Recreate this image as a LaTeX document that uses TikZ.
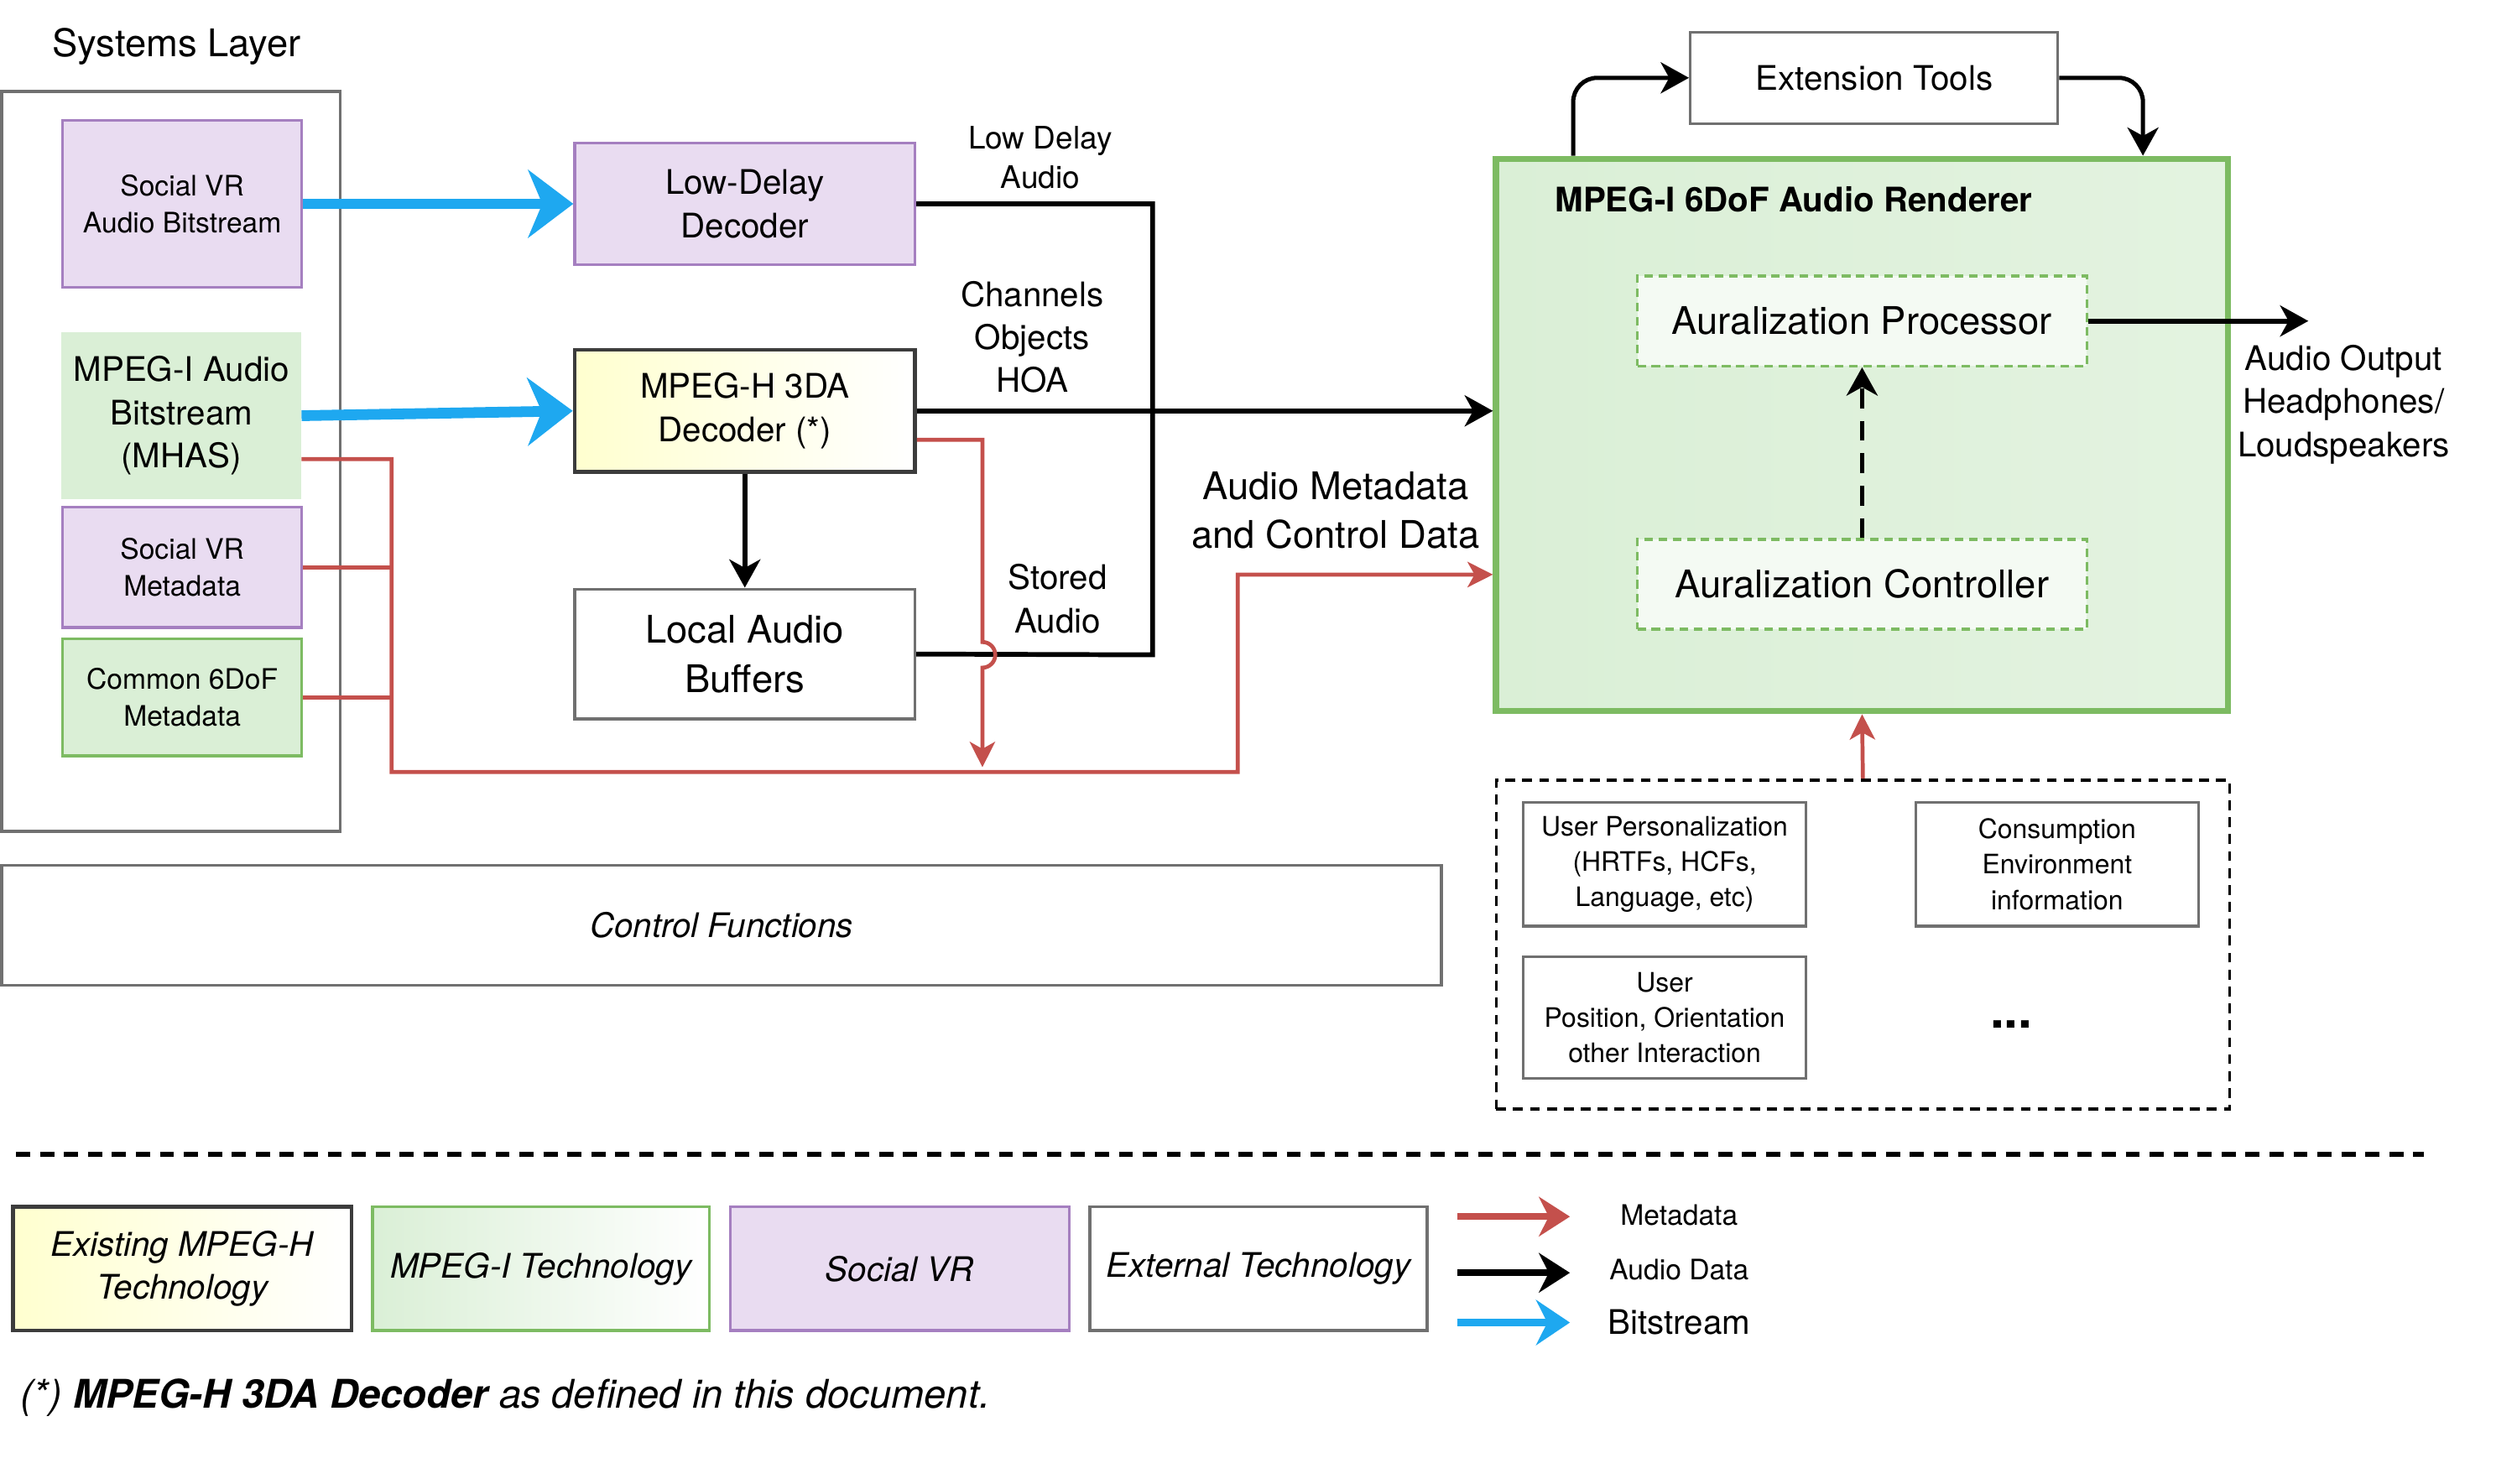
\documentclass[tikz,border=0pt]{standalone}
\usepackage{fontspec}
\setmainfont{TeX Gyre Heros}
\usetikzlibrary{arrows.meta}
\definecolor{svrfill}{HTML}{E9DCF1}
\definecolor{svrline}{HTML}{A57FC0}
\definecolor{mpifill}{HTML}{DAEFD6}
\definecolor{mpiline}{HTML}{7DBB62}
\definecolor{mphfill}{HTML}{FFFFCF}
\definecolor{mphline}{HTML}{3C3C3C}
\definecolor{boxline}{HTML}{707070}
\definecolor{metared}{HTML}{C4504C}
\definecolor{bitblue}{HTML}{1EA8F0}
\newcommand{\fnine}{\fontsize{9.5}{12.5}\selectfont}
\newcommand{\ften}{\fontsize{10}{13}\selectfont}
\newcommand{\ftwelve}{\fontsize{12}{15.3}\selectfont}
\newcommand{\fthirteen}{\fontsize{13.5}{17.5}\selectfont}
\tikzstyle{box}=[draw=boxline,fill=white,line width=1pt,align=center,inner sep=0pt]
\tikzstyle{svr}=[box,draw=svrline,fill=svrfill]
\tikzstyle{mpi}=[box,draw=mpiline,fill=mpifill]
\tikzstyle{mph}=[box,draw=mphline,line width=1.4pt,left color=mphfill,right color=white]
\tikzstyle{aur}=[box,draw=mpiline,dash pattern=on 3pt off 2pt,fill=white!70!mpifill,minimum width=5.6cm,minimum height=1.12cm,font=\fthirteen]
\tikzstyle{lbl}=[align=center,inner sep=0pt]
\tikzstyle{bitline}=[draw=bitblue,line width=3.8pt,-{Stealth[length=16pt,width=24pt,inset=5pt]}]
\tikzstyle{audline}=[draw=black,line width=1.7pt]
\tikzstyle{audtip}=[audline,-{Stealth[length=10pt,width=11pt,inset=3pt]}]
\tikzstyle{metaline}=[draw=metared,line width=1.4pt]
\tikzstyle{metatip}=[metaline,-{Stealth[length=9pt,width=9pt,inset=2.5pt]}]

\begin{document}
\begin{tikzpicture}[x=0.02cm,y=-0.02cm,thick]
\useasboundingbox (0,0) rectangle (1568,924.1);
% systems layer
\node[lbl,font=\fthirteen] (slt) at (110,29) {Systems Layer};
\node[box,minimum width=4.22cm,minimum height=9.22cm] (sys) at (106.5,287.5) {};
\node[svr,minimum width=2.98cm,minimum height=2.08cm,font=\ften] (svab) at (113.5,127) {Social VR\\Audio Bitstream};
\node[mpi,draw=mpifill,minimum width=2.96cm,minimum height=2.04cm,font=\ftwelve] (mhas) at (113,259) {MPEG-I Audio\\Bitstream\\(MHAS)};
\node[svr,minimum width=2.98cm,minimum height=1.5cm,font=\ften] (svmeta) at (113.5,353.5) {Social VR\\Metadata};
\node[mpi,minimum width=2.98cm,minimum height=1.46cm,font=\ften] (c6dof) at (113.5,434.5) {Common 6DoF\\Metadata};
% decoders
\node[svr,minimum width=4.24cm,minimum height=1.52cm,font=\ftwelve] (ldd) at (464,127) {Low-Delay\\Decoder};
\node[mph,minimum width=4.24cm,minimum height=1.52cm,font=\ftwelve] (mpegh) at (464,256) {MPEG-H 3DA\\Decoder (*)};
\node[box,minimum width=4.24cm,minimum height=1.62cm,font=\fthirteen] (lab) at (464,407.5) {Local Audio\\Buffers};
\node[lbl,font=\fontsize{11}{14}\selectfont] (ldalbl) at (648,98) {Low Delay\\Audio};
\node[lbl,font=\ftwelve] (choblbl) at (643,210) {Channels\\Objects\\HOA};
\node[lbl,font=\ftwelve] (storlbl) at (659,373) {Stored\\Audio};
\node[lbl,font=\fthirteen] (amcdlbl) at (832,318) {Audio Metadata\\and Control Data};
% renderer
\node[mpi,line width=2.3pt,left color=mpifill,right color=mpifill!75,minimum width=9.12cm,minimum height=6.88cm] (rend) at (1160,271) {};
\node[lbl,anchor=west,font=\ftwelve\bfseries] (rendlbl) at (968,124) {MPEG-I 6DoF Audio Renderer};
\node[aur] (ap) at (1160,200) {Auralization Processor};
\node[aur] (ac) at (1160,364) {Auralization Controller};
\node[box,minimum width=4.58cm,minimum height=1.14cm,font=\ftwelve] (ext) at (1167.5,48.5) {Extension Tools};
\node[lbl,font=\ftwelve] (outlbl) at (1460,252) {Audio Output\\Headphones/\\Loudspeakers};
% user inputs
\node[box,draw=black,line width=1pt,dash pattern=on 3.5pt off 2.5pt,minimum width=9.14cm,minimum height=4.1cm] (user) at (1160.5,588.5) {};
\node[box,minimum width=3.52cm,minimum height=1.54cm,font=\fnine] (upers) at (1037,538.5) {User Personalization\\(HRTFs, HCFs,\\Language, etc)};
\node[box,minimum width=3.52cm,minimum height=1.54cm,font=\fnine] (cons) at (1281.5,538.5) {Consumption\\Environment\\information};
\node[box,minimum width=3.52cm,minimum height=1.52cm,font=\fnine] (upos) at (1037,634) {User\\Position, Orientation\\other Interaction};
\node[lbl,font=\fontsize{18}{20}\selectfont\bfseries] (dots) at (1253,638) {...};
\node[box,minimum width=17.94cm,minimum height=1.5cm,font=\ftwelve\itshape] (ctrl) at (449.5,576.5) {Control Functions};
% legend
\coordinate (sepl) at (10,719);
\coordinate (sepr) at (1510,719);
\draw[line width=1.8pt,dash pattern=on 5pt off 3.5pt] (sepl) -- (sepr);
\node[mph,minimum width=4.22cm,minimum height=1.54cm,font=\ftwelve\itshape] (lgexist) at (113.5,790.5) {Existing MPEG-H\\Technology};
\node[mpi,left color=mpifill,right color=white,minimum width=4.2cm,minimum height=1.54cm,font=\ftwelve\itshape] (lgmpi) at (337,790.5) {MPEG-I Technology};
\node[svr,minimum width=4.22cm,minimum height=1.54cm,font=\ftwelve\itshape] (lgsvr) at (560.5,790.5) {Social VR};
\node[box,minimum width=4.2cm,minimum height=1.54cm,font=\ftwelve\itshape] (lgext) at (784,790.5) {External Technology};
\coordinate (m1) at (908,758); \coordinate (m2) at (978,758);
\coordinate (a1) at (908,793); \coordinate (a2) at (978,793);
\coordinate (b1) at (908,824); \coordinate (b2) at (978,824);
\draw[metatip,line width=2.4pt,-{Stealth[length=11pt,width=14pt,inset=3.5pt]}] (m1) -- (m2);
\draw[audtip,line width=2.4pt,-{Stealth[length=11pt,width=14pt,inset=3.5pt]}] (a1) -- (a2);
\draw[bitline,line width=2.8pt,-{Stealth[length=12pt,width=16pt,inset=4pt]}] (b1) -- (b2);
\node[lbl,font=\ften] (lgmeta) at (1046,757) {Metadata};
\node[lbl,font=\ften] (lgaud) at (1046,791) {Audio Data};
\node[lbl,font=\ftwelve] (lgbit) at (1046,824) {Bitstream};
\node[lbl,anchor=west,font=\fontsize{14}{17}\selectfont\itshape] (note) at (12,871) {(*) \textbf{MPEG-H 3DA Decoder} as defined in this document.};
% connectors
\draw[bitline] (svab.east) -- (ldd.west);
\draw[bitline] (mhas.east) -- (mpegh.west);
\draw[audtip] (mpegh.south) -- (lab.north);
\draw[audline] (ldd.east) -| (718,408) -- (lab.east);
\draw[audtip] (mpegh.east) -- (rend.west |- mpegh.east);
\coordinate (merge) at (612,478);
\draw[metatip] ([yshift=-0.36cm]mpegh.east) -- (612,274) -- (612,400) arc[start angle=90,end angle=-90,radius=0.16cm] -- (merge);
\draw[metatip] ([yshift=-0.54cm]mhas.east) -- (244,286) -- (244,481) -- (771,481) -- (771,358) -- ([yshift=-1.74cm]rend.west);
\draw[metaline] (svmeta.east) -- (244,353.5);
\draw[metaline] (c6dof.east) -- (244,434.5);
\draw[audtip,dash pattern=on 7pt off 4.5pt] (ac.north) -- (ap.south);
\coordinate (out) at (1438,200);
\draw[audtip] (ap.east) -- (out);
\draw[audtip,line width=1.5pt,rounded corners=0.3cm] ([xshift=-3.6cm]rend.north) |- (ext.west);
\draw[audtip,line width=1.5pt,rounded corners=0.3cm] (ext.east) -| ([xshift=3.5cm]rend.north);
\draw[metatip] (user.north) -- (rend.south);
\end{tikzpicture}
\end{document}
